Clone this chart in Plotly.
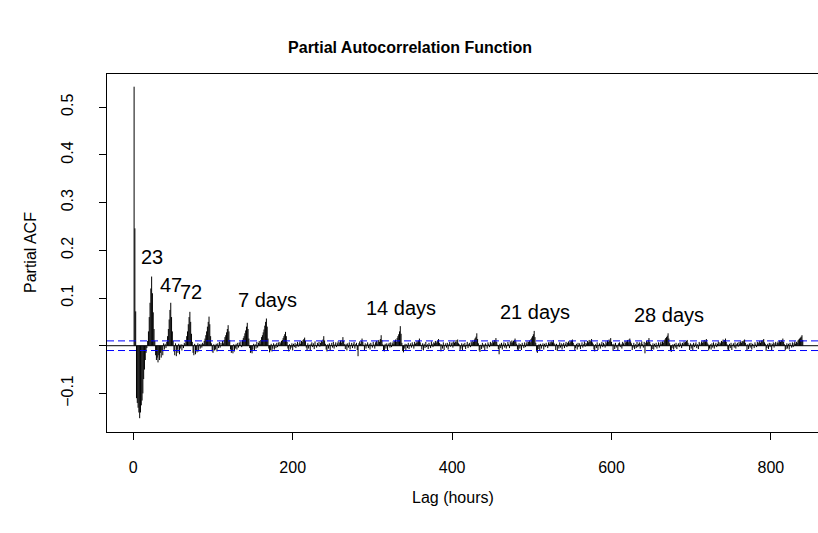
import plotly.graph_objects as go

# ---- data ----
pacf_values = (
    # lags 1-24
    [0.543, 0.246, 0.072, -0.11, -0.12, -0.13, -0.14, -0.152, -0.14, -0.125, -0.115, -0.1,
     -0.07, -0.05, -0.03, -0.015, -0.005, 0.01, 0.03, 0.06, 0.09, 0.12, 0.145, 0.11]
    # 25-48
    + [0.07, 0.035, 0.01, -0.02, -0.03, -0.025, -0.035, -0.02, -0.03, -0.015, -0.025, -0.01,
       -0.02, 0.005, -0.008, 0.004, -0.005, 0.008, 0.02, 0.035, 0.055, 0.075, 0.09, 0.06]
    # 49-72
    + [0.03, 0.01, -0.012, -0.02, 0.005, -0.022, -0.008, -0.015, 0.004, -0.018, -0.006, 0.003,
       -0.01, 0.002, -0.005, 0.006, 0.003, 0.012, 0.02, 0.03, 0.045, 0.06, 0.071, 0.05]
    # 73-96
    + [0.025, 0.008, -0.015, -0.02, 0.004, -0.018, -0.01, -0.014, 0.005, -0.012, 0.003, -0.006,
       0.004, -0.004, 0.006, 0.003, 0.01, 0.015, 0.022, 0.03, 0.04, 0.05, 0.061, 0.045]
    # 97-120
    + [0.02, 0.005, -0.012, -0.015, 0.003, -0.01, -0.008, 0.004, -0.012, 0.005, -0.005, 0.008,
       -0.004, 0.006, 0.002, 0.01, 0.005, 0.012, 0.018, 0.022, 0.028, 0.035, 0.043, 0.03]
    # 121-144
    + [0.012, -0.008, -0.015, -0.01, -0.016, 0.003, -0.012, -0.006, 0.004, -0.008, 0.006, -0.004,
       0.007, 0.002, 0.009, -0.003, 0.012, 0.016, 0.02, 0.026, 0.032, 0.04, 0.048, 0.035]
    # 145-168
    + [0.015, -0.005, -0.015, -0.012, -0.016, -0.008, 0.004, -0.01, 0.003, -0.006, 0.008, -0.004,
       0.006, 0.01, 0.004, 0.012, 0.018, 0.022, 0.028, 0.034, 0.042, 0.05, 0.057, 0.04]
    # 169-192
    + [0.015, -0.006, -0.014, -0.01, 0.004, -0.012, -0.006, 0.005, -0.008, 0.003, -0.005, 0.006,
       -0.003, 0.007, 0.002, 0.008, 0.005, 0.01, 0.012, 0.016, 0.02, 0.024, 0.029, 0.02]
    # 193-216
    + [0.008, -0.006, -0.012, 0.003, -0.008, -0.004, 0.005, -0.01, 0.004, -0.003, 0.006, -0.005,
       0.003, 0.008, -0.002, 0.005, 0.009, 0.004, 0.01, 0.008, 0.012, 0.014, 0.017, 0.01]
    # 217-240
    + [-0.004, -0.009, 0.005, -0.006, 0.002, -0.011, 0.004, 0.007, -0.003, 0.005, -0.007, 0.009,
       0.001, -0.004, 0.006, 0.003, 0.008, -0.002, 0.006, 0.01, 0.008, 0.013, 0.02, 0.011]
    # 241-264
    + [0.004, -0.008, -0.012, 0.003, -0.006, 0.005, -0.009, 0.002, 0.006, -0.004, 0.008, -0.006,
       0.003, 0.007, -0.003, 0.005, 0.009, 0.002, 0.007, 0.011, 0.006, 0.012, 0.018, 0.01]
    # 265-288
    + [0.003, -0.007, 0.004, -0.01, 0.005, -0.004, 0.007, -0.008, 0.002, 0.006, -0.005, 0.004,
       0.008, -0.006, 0.003, 0.006, -0.009, -0.022, 0.005, 0.009, 0.004, 0.01, 0.015, 0.008]
    # 289-312
    + [0.002, -0.01, 0.005, -0.006, 0.003, 0.007, -0.005, 0.004, -0.008, 0.006, 0.002, -0.004,
       0.008, 0.003, -0.006, 0.007, 0.01, 0.004, 0.009, 0.012, 0.008, 0.014, 0.022, 0.012]
    # 313-336
    + [0.003, -0.009, -0.012, 0.004, -0.006, 0.005, -0.01, 0.003, 0.006, -0.004, 0.007, -0.003,
       0.005, 0.009, 0.004, 0.01, 0.013, 0.008, 0.016, 0.02, 0.024, 0.03, 0.041, 0.025]
    # 337-360
    + [0.006, -0.011, -0.014, -0.006, 0.004, -0.009, 0.003, -0.005, 0.006, -0.007, 0.002, 0.005,
       -0.004, 0.007, 0.003, -0.006, 0.008, 0.004, 0.006, 0.01, 0.007, 0.011, 0.015, 0.007]
    # 361-384
    + [0.002, -0.008, 0.005, -0.01, 0.004, -0.005, 0.008, -0.003, 0.003, -0.007, 0.006, 0.002,
       -0.005, 0.009, 0.004, -0.003, 0.007, 0.005, 0.01, 0.006, 0.009, 0.011, 0.014, 0.006]
    # 385-408
    + [0.004, -0.012, 0.003, -0.006, 0.007, -0.009, 0.002, 0.005, -0.004, 0.006, -0.008, 0.003,
       0.008, -0.002, 0.005, 0.007, -0.004, 0.009, 0.006, 0.008, 0.012, 0.007, 0.013, 0.005]
    # 409-432
    + [0.003, -0.009, -0.006, 0.005, -0.011, 0.004, -0.003, 0.006, -0.007, 0.002, 0.008, -0.005,
       0.004, 0.006, -0.003, 0.009, 0.005, 0.011, 0.008, 0.013, 0.016, 0.019, 0.026, 0.014]
    # 433-456
    + [0.005, -0.01, -0.013, 0.002, -0.007, 0.006, -0.004, 0.003, -0.009, 0.005, 0.002, -0.006,
       0.007, 0.004, -0.003, 0.008, 0.006, 0.003, 0.01, 0.007, 0.012, 0.009, 0.016, 0.008]
    # 457-480
    + [0.002, -0.007, -0.018, 0.004, -0.005, 0.006, -0.008, 0.003, 0.007, -0.004, 0.005, -0.006,
       0.002, 0.008, 0.004, -0.005, 0.009, 0.006, 0.011, 0.007, 0.01, 0.012, 0.015, 0.009]
    # 481-504
    + [0.004, -0.008, -0.011, 0.005, -0.006, 0.003, -0.009, 0.006, 0.002, -0.005, 0.007, -0.003,
       0.005, 0.009, 0.003, 0.008, 0.011, 0.007, 0.014, 0.017, 0.02, 0.024, 0.031, 0.018]
    # 505-528
    + [0.006, -0.012, -0.015, -0.007, 0.003, -0.01, 0.004, -0.006, 0.002, 0.005, -0.008, 0.004,
       -0.003, 0.006, 0.002, -0.005, 0.007, 0.004, 0.008, 0.005, 0.009, 0.007, 0.012, 0.005]
    # 529-552
    + [0.003, -0.009, 0.004, -0.011, 0.002, -0.006, 0.007, -0.004, 0.005, -0.008, 0.003, 0.006,
       -0.005, 0.004, 0.008, -0.003, 0.006, 0.009, 0.005, 0.01, 0.007, 0.011, 0.013, 0.006]
    # 553-576
    + [0.002, -0.01, -0.005, 0.004, -0.008, 0.006, -0.003, 0.005, -0.007, 0.002, 0.007, -0.004,
       0.003, 0.009, -0.002, 0.006, 0.004, 0.01, 0.007, 0.012, 0.008, 0.011, 0.014, 0.007]
    # 577-600
    + [0.004, -0.008, -0.012, 0.003, -0.005, 0.007, -0.009, 0.002, 0.005, -0.006, 0.004, 0.008,
       -0.003, 0.006, 0.003, -0.004, 0.009, 0.005, 0.011, 0.008, 0.013, 0.01, 0.016, 0.008]
    # 601-624
    + [0.003, -0.011, 0.004, -0.007, 0.006, -0.004, 0.002, -0.009, 0.005, 0.007, -0.003, 0.004,
       -0.006, 0.008, 0.005, 0.002, 0.01, 0.006, 0.009, 0.012, 0.007, 0.013, 0.015, 0.009]
    # 625-648
    + [0.005, -0.009, -0.004, 0.006, -0.007, 0.003, -0.005, 0.008, -0.003, 0.004, 0.007, -0.006,
       0.005, 0.009, 0.003, -0.004, 0.008, -0.016, 0.006, 0.01, 0.007, 0.012, 0.016, 0.008]
    # 649-672
    + [0.003, -0.01, -0.007, 0.005, -0.008, 0.004, -0.003, 0.006, -0.006, 0.002, 0.007, -0.004,
       0.005, 0.008, 0.003, 0.009, 0.006, 0.011, 0.013, 0.016, 0.018, 0.021, 0.026, 0.015]
    # 673-696
    + [0.005, -0.011, -0.013, -0.005, 0.003, -0.008, 0.004, -0.004, 0.006, -0.007, 0.002, 0.005,
       -0.003, 0.007, 0.004, -0.005, 0.006, 0.003, 0.009, 0.006, 0.008, 0.01, 0.012, 0.006]
    # 697-720
    + [0.002, -0.009, 0.005, -0.006, 0.003, -0.01, 0.006, -0.003, 0.004, 0.007, -0.005, 0.003,
       -0.007, 0.008, 0.005, 0.002, 0.009, 0.006, 0.011, 0.007, 0.012, 0.009, 0.014, 0.007]
    # 721-744
    + [0.004, -0.01, -0.006, 0.003, -0.008, 0.005, -0.004, 0.007, -0.006, 0.003, 0.006, -0.003,
       0.004, 0.009, 0.002, 0.007, 0.005, 0.01, 0.008, 0.013, 0.009, 0.012, 0.015, 0.008]
    # 745-768
    + [0.003, -0.008, -0.011, 0.004, -0.005, 0.006, -0.009, 0.002, 0.005, -0.004, 0.007, -0.006,
       0.003, 0.006, -0.002, 0.008, 0.004, 0.009, 0.006, 0.01, 0.008, 0.011, 0.013, 0.006]
    # 769-792
    + [0.002, -0.009, 0.003, -0.007, 0.005, -0.004, 0.006, -0.008, 0.004, 0.002, -0.005, 0.007,
       0.003, -0.003, 0.008, 0.005, 0.007, 0.01, 0.006, 0.011, 0.009, 0.012, 0.014, 0.007]
    # 793-816
    + [0.004, -0.011, -0.005, 0.004, -0.007, 0.006, -0.003, 0.005, -0.009, 0.003, 0.007, -0.004,
       0.005, 0.008, 0.002, 0.006, 0.009, 0.005, 0.011, 0.008, 0.012, 0.01, 0.015, 0.008]
    # 817-840
    + [0.003, -0.01, -0.007, 0.005, -0.006, 0.004, -0.008, 0.006, 0.002, -0.004, 0.007, -0.003,
       0.005, 0.009, 0.004, 0.008, 0.006, 0.011, 0.013, 0.015, 0.017, 0.019, 0.022, 0.012]
)
lags = list(range(1, len(pacf_values) + 1))
conf_limit = 0.0101

x_ticks = [0, 200, 400, 600, 800]
y_ticks = [-0.1, 0.0, 0.1, 0.2, 0.3, 0.4, 0.5]
y_tick_labels = ["\u22120.1", "", "0.1", "0.2", "0.3", "0.4", "0.5"]

label_texts = ["23", "47", "72", "7 days", "14 days", "21 days", "28 days"]
label_x = [23, 47, 72, 168, 336, 504, 672]
label_y = [0.186, 0.127, 0.113, 0.096, 0.079, 0.07, 0.064]

# ---- figure ----
FONT = "Liberation Sans, Arial, sans-serif"
W, H = 818, 533
L, T, R_EDGE, B = 107, 74, 818, 432  # plot box in window pixels
PW, PH = R_EDGE - L, B - T

xs, ys = [], []
for lg, v in zip(lags, pacf_values):
    xs += [lg, lg, None]
    ys += [0, v, None]

fig = go.Figure()
fig.add_trace(go.Scatter(x=xs, y=ys, mode="lines",
                         line=dict(color="black", width=1), hoverinfo="skip",
                         showlegend=False))

x_range = [-33.0, 859.1]
y_range = [-0.1809, 0.5696]

for yv in [conf_limit, -conf_limit]:
    fig.add_shape(type="line", xref="paper", x0=0, x1=1, yref="y", y0=yv, y1=yv,
                  line=dict(color="#0000FF", width=1, dash="7px,4px"))
fig.add_shape(type="line", xref="paper", x0=0, x1=1, yref="y", y0=0, y1=0,
              line=dict(color="black", width=1))

for t, xv, yv in zip(label_texts, label_x, label_y):
    fig.add_annotation(x=xv, y=yv, xref="x", yref="y", text=t, showarrow=False,
                       font=dict(family=FONT, size=20, color="black"),
                       xanchor="center", yanchor="middle")

fig.add_annotation(x=(453 - L) / PW, y=(B - 497) / PH, xref="paper", yref="paper",
                   text="Lag (hours)", showarrow=False,
                   font=dict(family=FONT, size=16, color="black"),
                   xanchor="center", yanchor="middle")
fig.add_annotation(x=(30 - L) / PW, y=0.5, xref="paper", yref="paper",
                   text="Partial ACF", showarrow=False, textangle=-90,
                   font=dict(family=FONT, size=16, color="black"),
                   xanchor="center", yanchor="middle")

fig.update_layout(
    width=W, height=H,
    margin=dict(l=L, r=W - R_EDGE, t=T, b=H - B, pad=0, autoexpand=False),
    paper_bgcolor="white", plot_bgcolor="white",
    font=dict(family=FONT, size=16, color="black"),
    title=dict(text="<b>Partial Autocorrelation Function</b>",
               x=410 / W, xanchor="center", y=1 - 47 / H, yanchor="middle",
               xref="container", yref="container",
               font=dict(family=FONT, size=16, color="black")),
    showlegend=False,
)
fig.update_xaxes(range=x_range, showgrid=False, zeroline=False, automargin=False,
                 showline=True, linecolor="black", linewidth=1, mirror=True,
                 ticks="outside", ticklen=7, tickcolor="black", tickwidth=1,
                 tickvals=x_ticks, ticktext=[str(v) for v in x_ticks],
                 ticklabelstandoff=14,
                 tickfont=dict(family=FONT, size=16, color="black"))
fig.update_yaxes(range=y_range, showgrid=False, zeroline=False, automargin=False,
                 showline=True, linecolor="black", linewidth=1, mirror=False,
                 ticks="outside", ticklen=7, tickcolor="black", tickwidth=1,
                 tickvals=y_ticks, ticktext=y_tick_labels, tickangle=-90,
                 ticklabelstandoff=20,
                 tickfont=dict(family=FONT, size=16, color="black"))

fig.write_html(
    "out.html",
    config={"displayModeBar": False, "staticPlot": True},
    post_script="document.documentElement.style.overflow='hidden';"
                "document.body.style.margin='0';document.body.style.overflow='hidden';",
)
